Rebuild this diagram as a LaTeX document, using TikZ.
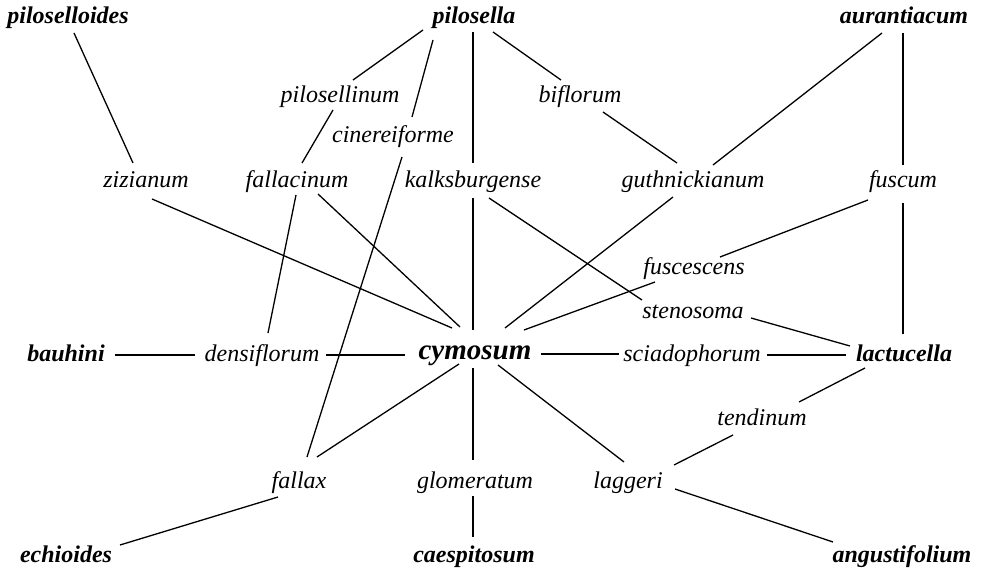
\documentclass[tikz,border=0pt]{standalone}
\usepackage{fontspec}
\setmainfont{Liberation Serif}
% connector between two named taxa, each end given as an offset from the label baseline
\newcommand\conn[4]{\draw[link] ([shift={(#2)}]#1.base) -- ([shift={(#4)}]#3.base);}
\begin{document}
\begin{tikzpicture}[x=1bp,y=-1bp,
  taxon/.style={anchor=base,inner sep=0pt,font=\itshape\fontsize{24bp}{28bp}\selectfont},
  species/.style={anchor=base,inner sep=0pt,font=\bfseries\itshape\fontsize{24bp}{28bp}\selectfont},
  central/.style={anchor=base,inner sep=0pt,font=\bfseries\itshape\fontsize{29bp}{32bp}\selectfont},
  link/.style={line width=1.3bp,black}]
\useasboundingbox (0,0) rectangle (982,571);
% basic species
\node[species] (PL) at (68,24) {piloselloides};
\node[species] (PS) at (474,24) {pilosella};
\node[species] (AU) at (904,24) {aurantiacum};
\node[species] (BA) at (66,361) {bauhini};
\node[central] (CY) at (475,359) {cymosum};
\node[species] (LA) at (904,361) {lactucella};
\node[species] (EC) at (66,562) {echioides};
\node[species] (CA) at (474,562) {caespitosum};
\node[species] (AN) at (902,562) {angustifolium};
% intermediate taxa
\node[taxon] (PN) at (340,103) {pilosellinum};
\node[taxon] (BI) at (580,103) {biflorum};
\node[taxon] (CI) at (393,143) {cinereiforme};
\node[taxon] (ZI) at (146,188) {zizianum};
\node[taxon] (FA) at (297,188) {fallacinum};
\node[taxon] (KA) at (473,188) {kalksburgense};
\node[taxon] (GU) at (693,188) {guthnickianum};
\node[taxon] (FU) at (903,188) {fuscum};
\node[taxon] (FS) at (694,275) {fuscescens};
\node[taxon] (ST) at (693,318) {stenosoma};
\node[taxon] (DE) at (262,361) {densiflorum};
\node[taxon] (SC) at (692,361) {sciadophorum};
\node[taxon] (TE) at (762,425) {tendinum};
\node[taxon] (FX) at (299,488) {fallax};
\node[taxon] (GL) at (475,488) {glomeratum};
\node[taxon] (LG) at (628,488) {laggeri};
% connections
\conn{PL}{6,9}{ZI}{-13,-25}
\conn{PS}{-51,6}{PN}{13,-23}
\conn{PS}{-41,16}{CI}{19,-26}
\conn{PS}{-1,8}{KA}{0,-25}
\conn{PS}{19,8}{BI}{-19,-23}
\conn{BI}{23,9}{GU}{-16,-25}
\conn{AU}{-22,9}{GU}{20,-23}
\conn{AU}{-1,9}{FU}{0,-23}
\conn{PN}{-7,7}{FA}{5,-25}
\conn{CI}{9,14}{FX}{8,-31}
\conn{ZI}{6,11}{CY}{-23,-31}
\conn{FA}{-1,7}{DE}{6,-28}
\conn{FA}{21,6}{CY}{-15,-32}
\conn{KA}{0,10}{CY}{-2,-29}
\conn{KA}{16,10}{ST}{-51,-18}
\conn{GU}{-20,9}{CY}{30,-31}
\conn{FU}{-35,12}{FS}{26,-18}
\conn{FS}{-39,7}{CY}{49,-29}
\conn{FU}{0,15}{LA}{-1,-27}
\conn{ST}{58,0}{LA}{-54,-15}
\conn{BA}{49,-6}{DE}{-67,-6}
\conn{DE}{64,-6}{CY}{-70,-4}
\conn{CY}{66,-5}{SC}{-73,-7}
\conn{SC}{75,-6}{LA}{-58,-6}
\conn{LA}{-39,7}{TE}{37,-23}
\conn{CY}{-16,5}{FX}{18,-31}
\conn{CY}{-2,9}{GL}{-2,-28}
\conn{CY}{23,6}{LG}{-4,-26}
\conn{TE}{-29,10}{LG}{46,-23}
\conn{FX}{-21,9}{EC}{54,-17}
\conn{GL}{-2,8}{CA}{-1,-25}
\conn{LG}{47,1}{AN}{-69,-20}
\end{tikzpicture}
\end{document}
